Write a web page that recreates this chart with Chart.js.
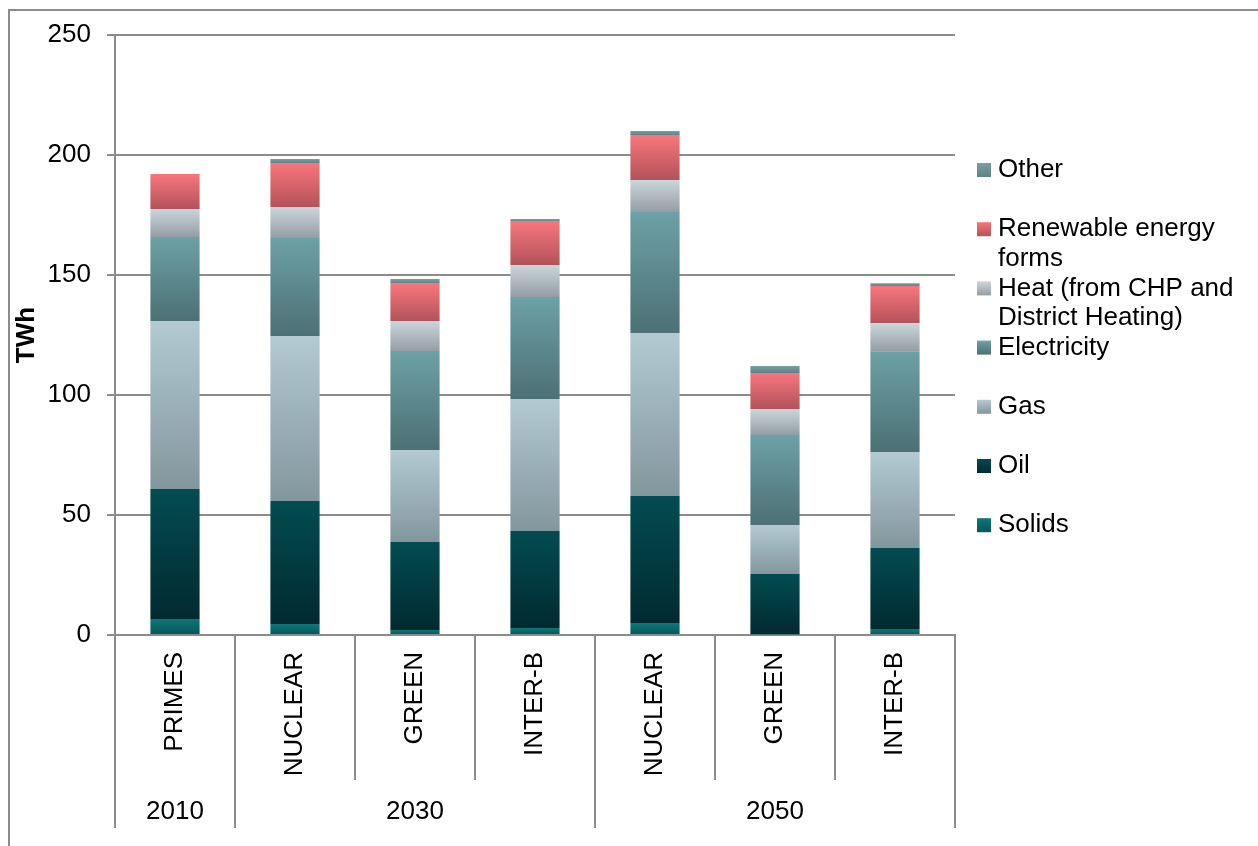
<!DOCTYPE html>
<html>
<head>
<meta charset="utf-8">
<script src="https://cdn.jsdelivr.net/npm/chart.js@4/dist/chart.umd.min.js"></script>
<style>
  body { margin: 0; background: #fff; }
  #wrap { width: 1258px; height: 846px; position: relative; }
</style>
</head>
<body>
<div id="wrap"><canvas id="energyChart"></canvas></div>
<script>
// categories and groups
const scenarios = ['PRIMES', 'NUCLEAR', 'GREEN', 'INTER-B', 'NUCLEAR', 'GREEN', 'INTER-B'];
const years = ['2010', '2030', '2050'];
const yearSizes = [1, 3, 3];

// series (bottom to top), TWh
const seriesNames = ['Solids', 'Oil', 'Gas', 'Electricity', 'Heat (from CHP and District Heating)', 'Renewable energy forms', 'Other'];
const solids      = [6.7, 4.6, 2.1, 2.9, 5.0, 0.3, 2.5];
const oil         = [54.1, 51.2, 36.7, 40.4, 52.9, 25.1, 33.8];
const gas         = [70.0, 68.8, 38.3, 55.0, 67.9, 20.4, 40.0];
const electricity = [35.0, 40.8, 41.2, 42.5, 50.4, 37.5, 41.9];
const heat        = [11.7, 12.9, 12.5, 13.4, 13.4, 10.9, 11.7];
const renewables  = [14.6, 18.4, 15.6, 18.0, 18.7, 15.0, 15.5];
const other       = [0, 1.6, 1.9, 1.1, 1.7, 2.9, 1.2];
const yTicks = [0, 50, 100, 150, 200, 250];

const seriesValues = [solids, oil, gas, electricity, heat, renewables, other];
// gradient top / bottom colours
const seriesColors = [
  ['#0f7678', '#03575a'],
  ['#034c52', '#012a30'],
  ['#b3cad3', '#82969d'],
  ['#6ca1a6', '#4c7075'],
  ['#cbd6db', '#949da4'],
  ['#f8767c', '#b3525b'],
  ['#7b9ea1', '#5e8386']
];

const FONT = "'Liberation Sans', Arial, sans-serif";
const GRID = '#8c8c8c';

// вертикальный градиент для каждого сегмента
function barGradient(ctx) {
  const chart = ctx.chart;
  const cols = seriesColors[ctx.datasetIndex];
  const y = chart.scales.y;
  if (ctx.type !== 'data' || !y) return cols[0];
  let base = 0;
  for (let k = 0; k < ctx.datasetIndex; k++) base += seriesValues[k][ctx.dataIndex];
  const top = y.getPixelForValue(base + seriesValues[ctx.datasetIndex][ctx.dataIndex]);
  const bottom = y.getPixelForValue(base);
  if (!isFinite(top) || !isFinite(bottom) || top === bottom) return cols[0];
  const g = chart.ctx.createLinearGradient(0, top, 0, bottom);
  g.addColorStop(0, cols[0]);
  g.addColorStop(1, cols[1]);
  return g;
}

const extras = {
  id: 'extras',
  beforeDraw(chart) {
    const c = chart.ctx;
    c.save();
    c.strokeStyle = GRID;
    c.lineWidth = 2;
    c.beginPath();
    c.moveTo(9, chart.height);
    c.lineTo(9, 10);
    c.lineTo(chart.width, 10);
    c.stroke();
    c.restore();
  },
  afterDraw(chart) {
    const c = chart.ctx;
    const area = chart.chartArea;
    const n = scenarios.length;
    const step = (area.right - area.left) / n;
    const shortEnd = 780, longEnd = 828;

    // separators under the axis
    const groupEdges = [0];
    yearSizes.forEach((s, i) => groupEdges.push(groupEdges[i] + s));
    c.save();
    c.strokeStyle = GRID;
    c.lineWidth = 2;
    for (let i = 0; i <= n; i++) {
      const x = Math.round(area.left + i * step);
      c.beginPath();
      c.moveTo(x, area.bottom);
      c.lineTo(x, groupEdges.includes(i) ? longEnd : shortEnd);
      c.stroke();
    }
    // years
    c.fillStyle = '#000';
    c.font = '26px ' + FONT;
    c.textAlign = 'center';
    c.textBaseline = 'middle';
    years.forEach((yr, i) => {
      const x = area.left + (groupEdges[i] + groupEdges[i + 1]) / 2 * step;
      c.fillText(yr, x, 812);
    });

    // legend (top item = last series)
    const boxX = 977, textX = 998, box = 14;
    const lineH = 29.5;
    let y = 170;
    for (let i = seriesNames.length - 1; i >= 0; i--) {
      const g = c.createLinearGradient(0, y - box / 2, 0, y + box / 2);
      g.addColorStop(0, seriesColors[i][0]);
      g.addColorStop(1, seriesColors[i][1]);
      c.fillStyle = g;
      c.fillRect(boxX, y - box / 2, box, box);

      // перенос строк
      const words = seriesNames[i].split(' ');
      const lines = [];
      let line = '';
      words.forEach((w) => {
        const test = line ? line + ' ' + w : w;
        if (c.measureText(test).width > 252 && line) {
          lines.push(line);
          line = w;
        } else {
          line = test;
        }
      });
      lines.push(line);
      c.fillStyle = '#000';
      c.textAlign = 'left';
      lines.forEach((l, k) => c.fillText(l, textX, y + k * lineH));
      y += 59.2;
    }
    c.restore();
  }
};

const datasets = seriesNames.map((name, i) => ({
  label: name,
  data: seriesValues[i],
  backgroundColor: barGradient,
  borderWidth: 0,
  barPercentage: 0.41,
  categoryPercentage: 1
}));

new Chart(document.getElementById('energyChart'), {
  type: 'bar',
  data: { labels: scenarios, datasets: datasets },
  options: {
    responsive: true,
    maintainAspectRatio: false,
    animation: false,
    layout: { padding: { top: 35, right: 303, left: 0, bottom: 0 } },
    plugins: { legend: { display: false }, tooltip: { enabled: false } },
    scales: {
      x: {
        stacked: true,
        grid: { display: false, drawTicks: false },
        border: { display: true, color: GRID, width: 2 },
        ticks: {
          minRotation: 90,
          maxRotation: 90,
          autoSkip: false,
          padding: 17,
          color: '#000',
          font: { family: FONT, size: 26 }
        },
        afterFit(scale) { scale.height = 211; }
      },
      y: {
        stacked: true,
        min: 0,
        max: 250,
        afterBuildTicks(scale) { scale.ticks = yTicks.map((v) => ({ value: v })); },
        grid: { color: GRID, lineWidth: 2, tickLength: 8 },
        border: { display: true, color: GRID, width: 2 },
        ticks: {
          padding: 16,
          color: '#000',
          font: { family: FONT, size: 26 }
        },
        title: {
          display: true,
          text: 'TWh',
          color: '#000',
          font: { family: FONT, size: 26, weight: 'bold' },
          padding: { top: 11, bottom: 0 }
        },
        afterFit(scale) { scale.width = 115; }
      }
    }
  },
  plugins: [extras]
});
</script>
</body>
</html>
